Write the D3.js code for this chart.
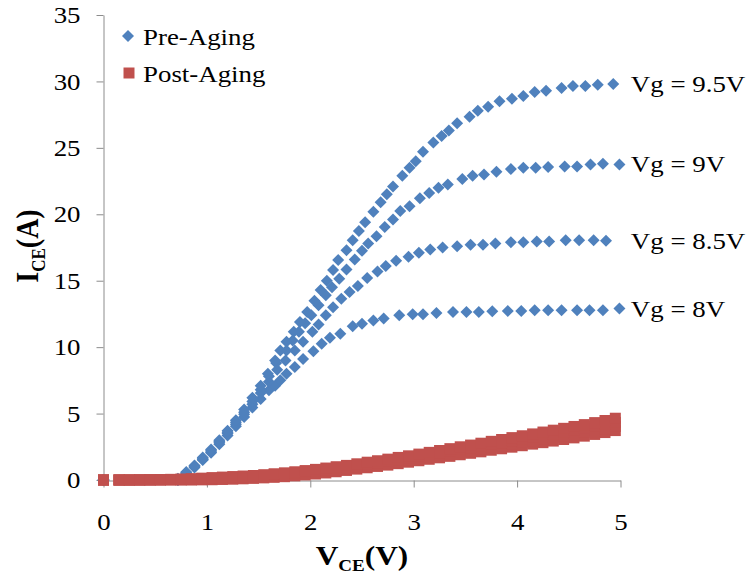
<!DOCTYPE html>
<html>
<head>
<meta charset="utf-8">
<script src="https://cdn.jsdelivr.net/npm/d3@7"></script>
<style>
body{margin:0;background:#fff;}
text{font-family:"Liberation Serif","Times New Roman",serif;fill:#000;}
</style>
</head>
<body>
<div id="chartContainer"></div>
<script>
// axis ticks
var xTicks = [0, 1, 2, 3, 4, 5];
var yTicks = [0, 5, 10, 15, 20, 25, 30, 35];
var seriesNames = ["Pre-Aging", "Post-Aging"];
var gateLabels = ["Vg = 8V", "Vg = 8.5V", "Vg = 9V", "Vg = 9.5V"];

// Pre-Aging, Vg = 8V
var pre8X = [0, 0.72, 0.80, 0.88, 0.96, 1.04, 1.12, 1.20, 1.28, 1.36, 1.44, 1.52, 1.60, 1.66, 1.71, 1.77, 1.85, 1.93, 2.03, 2.11, 2.19, 2.29, 2.41, 2.50, 2.61, 2.71, 2.86, 2.99, 3.09, 3.22, 3.38, 3.51, 3.63, 3.76, 3.91, 4.04, 4.17, 4.30, 4.43, 4.58, 4.70, 4.83, 4.99];
var pre8Y = [0, 0.0, 0.45, 0.95, 1.5, 2.05, 2.7, 3.35, 4.05, 4.75, 5.45, 6.1, 6.75, 7.1, 7.5, 8.0, 8.5, 9.1, 9.7, 10.25, 10.7, 11.0, 11.57, 11.77, 12.0, 12.15, 12.4, 12.47, 12.47, 12.57, 12.65, 12.65, 12.65, 12.7, 12.72, 12.72, 12.77, 12.77, 12.77, 12.77, 12.77, 12.77, 12.9];

// Pre-Aging, Vg = 8.5V
var pre85X = [0, 0.72, 0.80, 0.88, 0.96, 1.04, 1.12, 1.20, 1.28, 1.36, 1.44, 1.52, 1.60, 1.68, 1.76, 1.85, 1.93, 2.02, 2.08, 2.15, 2.22, 2.30, 2.38, 2.46, 2.55, 2.65, 2.73, 2.83, 2.95, 3.05, 3.16, 3.28, 3.42, 3.55, 3.67, 3.79, 3.94, 4.06, 4.19, 4.31, 4.47, 4.60, 4.74, 4.86];
var pre85Y = [0, 0.0, 0.5, 1.0, 1.55, 2.1, 2.8, 3.5, 4.2, 4.95, 5.7, 6.55, 7.4, 8.3, 9.0, 9.75, 10.4, 11.15, 11.7, 12.4, 13.0, 13.65, 14.15, 14.6, 15.2, 15.7, 16.1, 16.5, 16.8, 17.1, 17.35, 17.5, 17.6, 17.7, 17.7, 17.8, 17.9, 17.9, 17.95, 17.95, 18.05, 18.05, 18.05, 18.0];

// Pre-Aging, Vg = 9V
var pre9X = [0, 0.72, 0.80, 0.88, 0.96, 1.04, 1.12, 1.20, 1.28, 1.36, 1.44, 1.52, 1.60, 1.67, 1.77, 1.83, 1.89, 1.95, 2.01, 2.08, 2.15, 2.21, 2.28, 2.35, 2.43, 2.50, 2.56, 2.64, 2.72, 2.80, 2.87, 2.96, 3.06, 3.15, 3.24, 3.33, 3.47, 3.57, 3.68, 3.80, 3.94, 4.06, 4.18, 4.30, 4.46, 4.58, 4.71, 4.83, 4.99];
var pre9Y = [0, 0.05, 0.55, 1.05, 1.6, 2.2, 2.9, 3.6, 4.35, 5.1, 5.9, 6.8, 7.8, 8.8, 9.75, 10.5, 11.15, 11.8, 12.4, 13.15, 13.9, 14.5, 15.15, 15.85, 16.6, 17.25, 17.8, 18.35, 19.05, 19.6, 20.25, 20.6, 21.2, 21.6, 22.0, 22.25, 22.65, 22.9, 23.0, 23.2, 23.4, 23.5, 23.5, 23.55, 23.6, 23.6, 23.75, 23.8, 23.75];

// Pre-Aging, Vg = 9.5V
var pre95X = [0, 0.72, 0.80, 0.88, 0.96, 1.04, 1.12, 1.20, 1.28, 1.36, 1.44, 1.52, 1.59, 1.66, 1.71, 1.77, 1.84, 1.90, 1.97, 2.04, 2.10, 2.16, 2.22, 2.27, 2.35, 2.41, 2.47, 2.53, 2.61, 2.68, 2.74, 2.80, 2.89, 2.96, 3.02, 3.09, 3.19, 3.27, 3.34, 3.42, 3.54, 3.62, 3.72, 3.83, 3.95, 4.06, 4.17, 4.28, 4.43, 4.54, 4.66, 4.78, 4.93];
var pre95Y = [0, 0.1, 0.6, 1.1, 1.7, 2.3, 3.0, 3.7, 4.5, 5.3, 6.2, 7.1, 8.0, 9.0, 9.75, 10.4, 11.15, 11.9, 12.65, 13.5, 14.3, 15.0, 15.8, 16.55, 17.3, 18.05, 18.75, 19.4, 20.2, 20.9, 21.5, 22.1, 22.9, 23.5, 24.0, 24.7, 25.4, 25.9, 26.3, 26.85, 27.35, 27.8, 28.1, 28.5, 28.7, 28.9, 29.2, 29.3, 29.5, 29.65, 29.65, 29.75, 29.8];

// Post-Aging, shared VCE sweep for the four gate voltages
var postX = [0, 0.15, 0.25, 0.35, 0.45, 0.55, 0.65, 0.75, 0.85, 0.95, 1.05, 1.15, 1.25, 1.35, 1.45, 1.55, 1.65, 1.75, 1.85, 1.95, 2.05, 2.15, 2.25, 2.35, 2.45, 2.55, 2.65, 2.75, 2.85, 2.95, 3.05, 3.15, 3.25, 3.35, 3.45, 3.55, 3.65, 3.75, 3.85, 3.95, 4.05, 4.15, 4.25, 4.35, 4.45, 4.55, 4.65, 4.75, 4.85, 4.95];
var post8Y = [0, 0, 0, 0, 0, 0, 0, 0, 0, 0.01, 0.02, 0.04, 0.06, 0.09, 0.12, 0.16, 0.2, 0.25, 0.31, 0.38, 0.45, 0.53, 0.62, 0.72, 0.82, 0.92, 1.02, 1.12, 1.23, 1.34, 1.45, 1.56, 1.67, 1.78, 1.9, 2.01, 2.12, 2.24, 2.35, 2.47, 2.58, 2.7, 2.81, 2.93, 3.05, 3.17, 3.3, 3.43, 3.57, 3.72];
var post85Y = [0, 0, 0, 0, 0.01, 0.01, 0.02, 0.02, 0.03, 0.05, 0.07, 0.1, 0.13, 0.16, 0.19, 0.24, 0.29, 0.35, 0.41, 0.49, 0.57, 0.65, 0.75, 0.85, 0.95, 1.06, 1.16, 1.27, 1.39, 1.5, 1.62, 1.73, 1.85, 1.97, 2.1, 2.21, 2.33, 2.46, 2.58, 2.71, 2.83, 2.95, 3.07, 3.2, 3.33, 3.45, 3.59, 3.72, 3.87, 4.03];
var post9Y = [0, 0, 0, 0.01, 0.01, 0.02, 0.03, 0.05, 0.07, 0.1, 0.13, 0.16, 0.19, 0.23, 0.27, 0.32, 0.38, 0.44, 0.52, 0.6, 0.68, 0.78, 0.87, 0.97, 1.09, 1.2, 1.31, 1.42, 1.54, 1.66, 1.79, 1.91, 2.04, 2.17, 2.3, 2.43, 2.56, 2.69, 2.82, 2.95, 3.08, 3.22, 3.35, 3.48, 3.61, 3.75, 3.88, 4.03, 4.18, 4.34];
var post95Y = [0, 0, 0, 0.01, 0.02, 0.03, 0.05, 0.07, 0.1, 0.14, 0.18, 0.22, 0.26, 0.3, 0.34, 0.4, 0.47, 0.54, 0.62, 0.71, 0.8, 0.9, 1.0, 1.1, 1.22, 1.34, 1.45, 1.57, 1.7, 1.82, 1.95, 2.08, 2.22, 2.36, 2.5, 2.63, 2.77, 2.91, 3.05, 3.19, 3.33, 3.47, 3.61, 3.75, 3.89, 4.03, 4.17, 4.32, 4.48, 4.65];

var blue = "#4F81BD";
var red = "#C0504D";
var stretch = "scale(1.12,1)";

var width = 747, height = 577;
var svg = d3.select("#chartContainer").append("svg")
    .attr("width", width)
    .attr("height", height);

var x = d3.scaleLinear().domain([0, 5]).range([103.5, 620.5]);
var y = d3.scaleLinear().domain([0, 35]).range([480, 15]);

function zipPoints(xs, ys){
    return xs.map(function(v, i){ return [v, ys[i]]; });
}

var preSeries = [
    zipPoints(pre8X, pre8Y),
    zipPoints(pre85X, pre85Y),
    zipPoints(pre9X, pre9Y),
    zipPoints(pre95X, pre95Y)
];
var postSeries = [
    zipPoints(postX, post8Y),
    zipPoints(postX, post85Y),
    zipPoints(postX, post9Y),
    zipPoints(postX, post95Y)
];

// Axes
var yAxis = svg.append("g")
    .attr("transform", "translate(103.5,0)")
    .call(d3.axisLeft(y).tickValues(yTicks).tickFormat(d3.format("d"))
        .tickSize(7).tickPadding(10).tickSizeOuter(0));
var xAxis = svg.append("g")
    .attr("transform", "translate(0,480.5)")
    .call(d3.axisBottom(x).tickValues(xTicks).tickFormat(d3.format("d"))
        .tickSize(7).tickPadding(25).tickSizeOuter(0));

[xAxis, yAxis].forEach(function(a){
    a.select(".domain").attr("stroke", "#8c8c8c");
    a.selectAll(".tick line").attr("stroke", "#8c8c8c");
    a.selectAll(".tick text")
        .style("font-family", "'Liberation Serif', serif")
        .style("font-size", "24px")
        .attr("fill", "#000");
});
yAxis.selectAll(".tick text").attr("transform", stretch).attr("x", -23 / 1.12);
xAxis.selectAll(".tick text").attr("transform", stretch);

// Pre-Aging diamonds
var diamond = d3.symbol().type(d3.symbolSquare).size(72)();
preSeries.forEach(function(pts){
    svg.append("g").selectAll("path")
        .data(pts)
        .enter()
        .append("path")
        .attr("d", diamond)
        .attr("fill", blue)
        .attr("transform", function(d){
            return "translate(" + x(d[0]) + "," + y(d[1]) + ") rotate(45)";
        });
});

// Post-Aging squares (drawn on top)
var square = d3.symbol().type(d3.symbolSquare).size(121)();
postSeries.forEach(function(pts){
    svg.append("g").selectAll("path")
        .data(pts)
        .enter()
        .append("path")
        .attr("d", square)
        .attr("fill", red)
        .attr("transform", function(d){
            return "translate(" + x(d[0]) + "," + y(d[1]) + ")";
        });
});

// Gate voltage labels next to the end of each Pre-Aging curve
preSeries.forEach(function(pts, i){
    var last = pts[pts.length - 1];
    svg.append("text")
        .attr("transform", "translate(" + x(5.1) + "," + (y(last[1]) + 8) + ") " + stretch)
        .style("font-size", "24px")
        .text(gateLabels[i]);
});

// Legend
var legend = svg.append("g");
legend.append("path")
    .attr("d", diamond)
    .attr("fill", blue)
    .attr("transform", "translate(128,36) rotate(45)");
legend.append("path")
    .attr("d", square)
    .attr("fill", red)
    .attr("transform", "translate(129,73)");
legend.append("text")
    .attr("transform", "translate(143,45) " + stretch)
    .style("font-size", "24px")
    .text(seriesNames[0]);
legend.append("text")
    .attr("transform", "translate(143,82) " + stretch)
    .style("font-size", "24px")
    .text(seriesNames[1]);

// Axis titles
var xTitle = svg.append("text")
    .attr("transform", "translate(362,565) " + stretch)
    .attr("text-anchor", "middle")
    .style("font-size", "28px")
    .style("font-weight", "bold");
xTitle.append("tspan").text("V");
xTitle.append("tspan").attr("dy", 6).style("font-size", "17px").text("CE");
xTitle.append("tspan").attr("dy", -6).text("(V)");

var yTitle = svg.append("text")
    .attr("transform", "translate(38,246) rotate(-90) scale(1,1.12)")
    .attr("text-anchor", "middle")
    .style("font-size", "28px")
    .style("font-weight", "bold");
yTitle.append("tspan").text("I");
yTitle.append("tspan").attr("dy", 6).style("font-size", "17px").text("CE");
yTitle.append("tspan").attr("dy", -6).text("(A)");
</script>
</body>
</html>
